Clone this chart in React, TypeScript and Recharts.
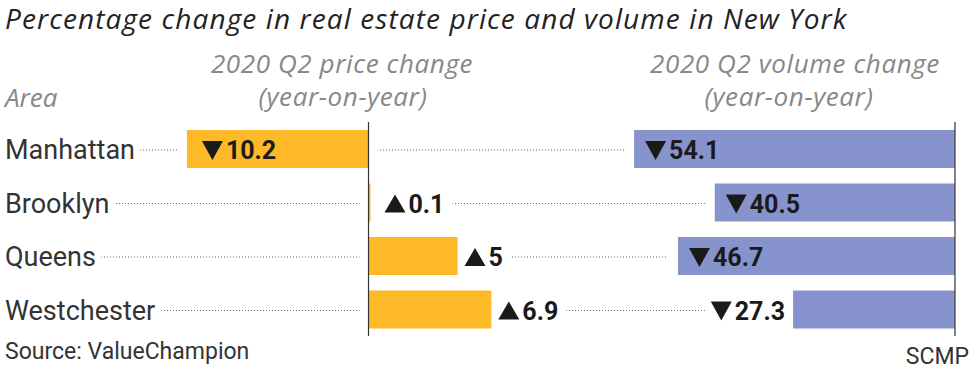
import React from 'react';
import { BarChart, Bar, XAxis, YAxis, LabelList, ReferenceLine } from 'recharts';

const areas = ['Manhattan', 'Brooklyn', 'Queens', 'Westchester'];
const priceChange = [-10.2, 0.1, 5, 6.9];
const volumeChange = [-54.1, -40.5, -46.7, -27.3];

const titleText = 'Percentage change in real estate price and volume in New York';
const priceHeader = ['2020 Q2 price change', '(year-on-year)'];
const volumeHeader = ['2020 Q2 volume change', '(year-on-year)'];
const areaHeader = 'Area';
const sourceText = 'Source: ValueChampion';
const creditText = 'SCMP';

const data = areas.map((area, i) => ({ area, price: priceChange[i], volume: volumeChange[i] }));

const YELLOW = '#FDB927';
const BLUE = '#8793CC';
const FONT = 'Roboto, sans-serif';
const ITALIC_FONT = '"Open Sans", sans-serif';
const VALUE_SIZE = 25;

let ctx: CanvasRenderingContext2D | null = null;
const measure = (s: string) => {
  if (!ctx && typeof document !== 'undefined') {
    ctx = document.createElement('canvas').getContext('2d');
  }
  if (!ctx) return s.length * 14;
  ctx.font = `700 ${VALUE_SIZE}px Roboto`;
  return ctx.measureText(s).width;
};

const norm = (p: any) => {
  const x = Number(p.x);
  const w = Number(p.width);
  return { left: Math.min(x, x + w), right: Math.max(x, x + w), y: Number(p.y), h: Number(p.height) };
};

const VolumeShape = (props: any) => {
  const { left, right, y, h } = norm(props);
  const cy = y + h / 2 + 1;
  return (
    <g>
      <line x1={5} x2={left - 10} y1={cy} y2={cy} stroke="#666" strokeWidth={1} strokeDasharray="1 2" />
      <rect x={left} y={y} width={right - left} height={h} fill={BLUE} />
    </g>
  );
};

const PriceShape = (props: any) => {
  const { left, right, y, h } = norm(props);
  return (
    <g>
      <rect x={left - 9} y={y} width={right - left + 18} height={h} fill="#fff" />
      <rect x={left} y={y} width={Math.max(right - left, 2)} height={h} fill={YELLOW} />
    </g>
  );
};

const TRI_W = 21;
const TRI_H = 18;
const TRI_GAP = 3;

const ValueText = ({ x, y, value, halo }: any) => {
  const v = Number(value);
  const label = String(Math.abs(v));
  const tw = measure(label);
  const tri =
    v < 0
      ? `M${x},${y - TRI_H} L${x + TRI_W},${y - TRI_H} L${x + TRI_W / 2},${y + 1} Z`
      : `M${x},${y} L${x + TRI_W},${y} L${x + TRI_W / 2},${y - TRI_H} Z`;
  const textX = x + TRI_W + TRI_GAP;
  return (
    <g>
      {halo && (
        <rect x={x - 6} y={y - 15} width={TRI_W + TRI_GAP + tw + 14} height={12} fill="#fff" />
      )}
      <path d={tri} fill="#1a1a1a" />
      <text x={textX} y={y} fontFamily={FONT} fontWeight={700} fontSize={VALUE_SIZE} fill="#1a1a1a">
        {label}
      </text>
    </g>
  );
};

const PriceLabel = (props: any) => {
  const { left, right, y, h } = norm(props);
  const v = Number(props.value);
  const base = y + h / 2 + 10;
  if (v < 0) {
    return <ValueText x={left + 15} y={base} value={v} halo={false} />;
  }
  const tx = Math.max(right, left + 9) + 7;
  return <ValueText x={tx} y={base} value={v} halo={true} />;
};

const VolumeLabel = (props: any) => {
  const { left, right, y, h } = norm(props);
  const v = Number(props.value);
  const base = y + h / 2 + 10;
  if (right - left >= 170) {
    return <ValueText x={left + 11} y={base} value={v} halo={false} />;
  }
  const tw = measure(String(Math.abs(v)));
  return <ValueText x={left - 8 - tw - TRI_GAP - TRI_W} y={base} value={v} halo={true} />;
};

const AreaLabel = (props: any) => {
  const { y, h } = norm(props);
  return (
    <text
      x={5}
      y={y + h / 2 + 10}
      fontFamily={FONT}
      fontSize={27}
      fill="#333"
      stroke="#fff"
      strokeWidth={14}
      strokeLinejoin="round"
      paintOrder="stroke"
    >
      {props.value}
    </text>
  );
};

export default function App() {
  return (
    <div style={{ position: 'absolute', left: 0, top: 0, width: 972, height: 370, background: '#fff' }}>
      <BarChart
        width={972}
        height={370}
        data={data}
        layout="vertical"
        margin={{ top: 122, right: 0, bottom: 34, left: 0 }}
      >
        <XAxis xAxisId="v" type="number" domain={[-161, 2.87]} allowDataOverflow hide />
        <XAxis xAxisId="p" type="number" domain={[-20.7, 33.9]} allowDataOverflow hide />
        <YAxis yAxisId="v" type="category" dataKey="area" hide />
        <YAxis yAxisId="p" type="category" dataKey="area" hide />
        <Bar
          dataKey="volume"
          xAxisId="v"
          yAxisId="v"
          barSize={38}
          fill={BLUE}
          shape={<VolumeShape />}
          isAnimationActive={false}
        >
          <LabelList dataKey="volume" content={<VolumeLabel />} />
        </Bar>
        <Bar
          dataKey="price"
          xAxisId="p"
          yAxisId="p"
          barSize={38}
          fill={YELLOW}
          shape={<PriceShape />}
          isAnimationActive={false}
        >
          <LabelList dataKey="area" content={<AreaLabel />} />
          <LabelList dataKey="price" content={<PriceLabel />} />
        </Bar>
        <ReferenceLine x={0} xAxisId="p" yAxisId="p" stroke="#333" strokeWidth={1.2} />
        <ReferenceLine x={0} xAxisId="v" yAxisId="v" stroke="#333" strokeWidth={1.2} />
      </BarChart>
      <svg width={972} height={370} style={{ position: 'absolute', left: 0, top: 0, pointerEvents: 'none' }}>
        <text x={5} y={29} fontFamily={ITALIC_FONT} fontStyle="italic" fontSize={28} letterSpacing={1.1} fill="#222">{titleText}</text>
        <text x={342} y={73} textAnchor="middle" fontFamily={ITALIC_FONT} fontStyle="italic" fontSize={26} letterSpacing={0.6} fill="#888">{priceHeader[0]}</text>
        <text x={343} y={106} textAnchor="middle" fontFamily={ITALIC_FONT} fontStyle="italic" fontSize={26} letterSpacing={0.6} fill="#888">{priceHeader[1]}</text>
        <text x={795} y={73} textAnchor="middle" fontFamily={ITALIC_FONT} fontStyle="italic" fontSize={26} letterSpacing={0.6} fill="#888">{volumeHeader[0]}</text>
        <text x={789} y={106} textAnchor="middle" fontFamily={ITALIC_FONT} fontStyle="italic" fontSize={26} letterSpacing={0.6} fill="#888">{volumeHeader[1]}</text>
        <text x={5} y={107} fontFamily={ITALIC_FONT} fontStyle="italic" fontSize={26} fill="#888">{areaHeader}</text>
        <text x={5} y={359} fontFamily={FONT} fontSize={23} fill="#333">{sourceText}</text>
        <text x={969} y={364} textAnchor="end" fontFamily={FONT} fontSize={23} fill="#333">{creditText}</text>
      </svg>
    </div>
  );
}
